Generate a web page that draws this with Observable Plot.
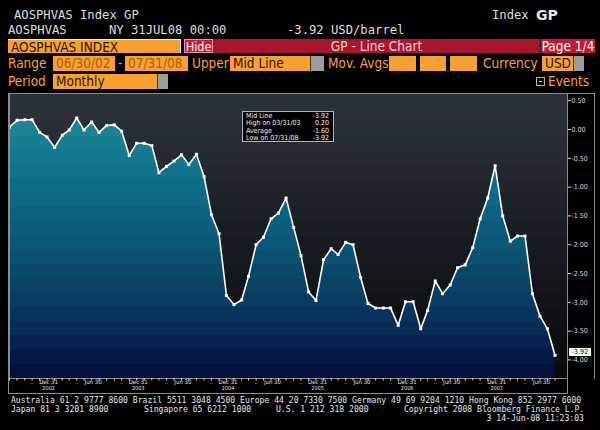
<!DOCTYPE html>
<html><head><meta charset="utf-8">
<script src="https://cdn.jsdelivr.net/npm/d3@7"></script>
<script src="https://cdn.jsdelivr.net/npm/@observablehq/plot@0.6"></script>
<style>
html,body{margin:0;padding:0;background:#000;}
#page{position:relative;width:600px;height:430px;background:#000;overflow:hidden;}
.a{position:absolute;white-space:nowrap;box-sizing:border-box;}
.mono{font-family:"DejaVu Sans Mono",monospace;color:#dedede;font-size:12.2px;line-height:14px;}
.nar{font-family:"Liberation Sans Narrow","DejaVu Sans Condensed","Arial Narrow",sans-serif;font-size:13.5px;line-height:15px;}
.lab{color:#f8a030;}
.box{background:#f8a030;color:#2a1500;padding-left:3px;}
.dbox{background:#f8a030;color:#b05a10;padding-left:3px;}
.cap{background:#9c9c9c;border-left:1px solid #333;}
.foot{font-family:"DejaVu Sans Mono",monospace;font-size:8.1px;color:#e6e6e6;line-height:9px;}
.ln{background:#8c8c8c;}
#legend{font-family:"DejaVu Sans Condensed","Liberation Sans Narrow",sans-serif;font-size:7px;color:#f2f2f2;line-height:7.3px;}
#legend .row{display:flex;justify-content:space-between;}
</style></head>
<body>
<div id="page">
  <!-- header -->
  <div class="a mono" style="left:14px;top:8px;">AOSPHVAS Index GP</div>
  <div class="a mono" style="left:492px;top:8px;">Index</div>
  <div class="a" style="left:536px;top:7px;font-family:'DejaVu Sans',sans-serif;font-weight:bold;font-size:14px;color:#e6e6e6;line-height:16px;">GP</div>
  <div class="a mono" style="left:8px;top:23px;">AOSPHVAS</div>
  <div class="a mono" style="left:109px;top:23px;">NY 31JUL08 00:00</div>
  <div class="a mono" style="left:287px;top:23px;">-3.92 USD/barrel</div>

  <div class="a nar box" style="left:8px;top:39px;width:173px;height:14px;line-height:14px;border-top:1px solid #fff2d0;border-right:1px solid #fff2d0;">AOSPHVAS INDEX</div>
  <div class="a nar" style="left:184px;top:39px;width:29px;height:14px;line-height:13px;background:#c81e3c;border:1px solid #f090a8;color:#fff;text-align:center;font-size:12.5px;">Hide</div>
  <div class="a nar" style="left:213px;top:39px;width:327px;height:14px;line-height:14px;background:#a8162c;color:#f8d0d8;text-align:center;">GP - Line Chart</div>
  <div class="a nar" style="left:541px;top:39px;width:54px;height:14px;line-height:14px;background:#c41a32;color:#fff;text-align:center;">Page 1/4</div>

  <div class="a nar lab" style="left:8px;top:56px;">Range</div>
  <div class="a nar dbox" style="left:53px;top:56px;width:62px;height:15px;">06/30/02</div>
  <div class="a nar lab" style="left:118px;top:56px;">-</div>
  <div class="a nar dbox" style="left:125px;top:56px;width:63px;height:15px;">07/31/08</div>
  <div class="a nar lab" style="left:192px;top:56px;">Upper</div>
  <div class="a nar box" style="left:230px;top:56px;width:80px;height:15px;">Mid Line</div>
  <div class="a cap" style="left:310px;top:56px;width:14px;height:15px;"></div>
  <div class="a nar lab" style="left:328px;top:56px;">Mov. Avgs</div>
  <div class="a box" style="left:389px;top:56px;width:27px;height:15px;"></div>
  <div class="a box" style="left:420px;top:56px;width:26px;height:15px;"></div>
  <div class="a box" style="left:450px;top:56px;width:27px;height:15px;"></div>
  <div class="a nar lab" style="left:483px;top:56px;">Currency</div>
  <div class="a nar box" style="left:542px;top:56px;width:31px;height:15px;">USD</div>
  <div class="a cap" style="left:573px;top:56px;width:11px;height:15px;"></div>

  <div class="a nar lab" style="left:8px;top:74px;">Period</div>
  <div class="a nar box" style="left:53px;top:74px;width:104px;height:15px;">Monthly</div>
  <div class="a cap" style="left:157px;top:74px;width:11px;height:15px;"></div>
  <div class="a" style="left:536px;top:77px;width:9px;height:9px;border:1px solid #b0b0b0;"><div style="position:absolute;left:2px;top:3px;width:3px;height:1px;background:#d0d0d0;"></div></div>
  <div class="a nar lab" style="left:548px;top:74px;">Events</div>

  <!-- chart -->
  <div class="a" id="chart" style="left:9px;top:93px;width:586px;height:301px;"></div>
  <div class="a ln" style="left:567px;top:93px;width:28px;height:1px;"></div>
  <div class="a ln" style="left:594px;top:93px;width:1px;height:286px;"></div>
  <div class="a ln" style="left:8px;top:93px;width:1px;height:301px;"></div>
  <div class="a ln" style="left:8px;top:393px;width:560px;height:1px;"></div>
  <div class="a ln" style="left:567px;top:378px;width:1px;height:16px;"></div>

  <div class="a" id="legend" style="left:242px;top:111px;width:92px;height:31px;border:1px solid #b4b4b4;background:#000;padding:1px 4px 0 3px;"></div>
  <div class="a" id="lastbox" style="left:569px;width:22px;height:8px;background:#fff;color:#000;font-family:'DejaVu Sans Condensed',sans-serif;font-size:7px;line-height:8px;text-align:center;"></div>

  <!-- footer -->
  <div class="a foot" style="left:11px;top:396px;">Australia 61 2 9777 8600 Brazil 5511 3048 4500 Europe 44 20 7330 7500 Germany 49 69 9204 1210 Hong Kong 852 2977 6000</div>
  <div class="a foot" style="left:11px;top:405px;">Japan 81 3 3201 8900</div>
  <div class="a foot" style="left:144px;top:405px;">Singapore 65 6212 1000</div>
  <div class="a foot" style="left:276px;top:405px;">U.S. 1 212 318 2000</div>
  <div class="a foot" style="left:404px;top:405px;">Copyright 2008 Bloomberg Finance L.P.</div>
  <div class="a foot" style="right:16px;top:414px;">3 14-Jun-08 11:23:03</div>
</div>
<script>
// ---- data ----
const startMonth = "2002-06-01";
const endMonth = "2008-08-01";
const values = [
  0.04, 0.16, 0.17, 0.17, -0.05, -0.13, -0.31, -0.10, -0.01, 0.20, -0.01, 0.13,
  -0.05, 0.07, 0.08, -0.03, -0.45, -0.24, -0.24, -0.28, -0.75, -0.64, -0.55, -0.44,
  -0.61, -0.43, -0.82, -1.48, -1.81, -2.88, -3.04, -2.96, -2.55, -2.00, -1.87, -1.55,
  -1.45, -1.19, -1.70, -2.19, -2.82, -2.97, -2.26, -2.07, -2.17, -1.96, -2.00, -2.57,
  -3.02, -3.10, -3.10, -3.10, -3.40, -2.99, -2.99, -3.46, -3.14, -2.63, -2.85, -2.70,
  -2.40, -2.35, -2.05, -1.55, -1.19, -0.63, -1.50, -1.94, -1.85, -1.85, -2.85, -3.24,
  -3.46, -3.92
];
const yTicks = [0.5, 0, -0.5, -1, -1.5, -2, -2.5, -3, -3.5, -4];
const xLabelDates = ["2002-12-31","2003-06-30","2003-12-31","2004-06-30","2004-12-31","2005-06-30",
  "2005-12-31","2006-06-30","2006-12-31","2007-06-30","2007-12-31","2008-06-30"];
const xLabelTexts = ["Dec 31","Jun 30","Dec 31","Jun 30","Dec 31","Jun 30",
  "Dec 31","Jun 30","Dec 31","Jun 30","Dec 31","Jun 30"];
const xYearDates = ["2002-12-31","2003-12-31","2004-12-31","2005-12-31","2006-12-31","2007-12-31"];
const xYearTexts = ["2002","2003","2004","2005","2006","2007"];
const xDotDates = ["2002-09-30","2003-03-31","2003-09-30","2004-03-31","2004-09-30","2005-03-31",
  "2005-09-30","2006-03-31","2006-09-30","2007-03-31","2007-09-30","2008-03-31"];
const legendLabels = ["Mid Line","High on 03/31/03","Average","Low on 07/31/08"];
const legendValues = ["-3.92","0.20","-1.60","-3.92"];
const lastLabel = "-3.92";

// ---- build ----
const months = d3.utcMonth.range(new Date(startMonth), new Date(endMonth));
const data = months.map((m, i) => ({date: d3.utcDay.offset(d3.utcMonth.offset(m, 1), -1), value: values[i]}));
const toDate = s => new Date(s);

const W = 586, H = 301, MT = 0, MB = 16, ML = 0, MR = 28;
const yDomain = [-4.323, 0.625];
const font = "'DejaVu Sans Condensed','Liberation Sans Narrow',sans-serif";

const chart = Plot.plot({
  width: W, height: H,
  marginTop: MT, marginBottom: MB, marginLeft: ML, marginRight: MR,
  style: {background: "transparent", color: "#d8d8d8", fontFamily: font, overflow: "visible"},
  x: {type: "utc", domain: [new Date("2002-06-30"), new Date("2008-09-20")], label: null},
  y: {domain: yDomain, label: null},
  marks: [
    Plot.frame({fill: "url(#bgGrad)"}),
    Plot.areaY(data, {x: "date", y1: yDomain[0], y2: "value", fill: "url(#areaGrad)"}),
    Plot.line(data, {x: "date", y: "value", stroke: "#ffffff", strokeWidth: 1.6}),
    Plot.dot(data, {x: "date", y: "value", symbol: "square", r: 1.7, fill: "#ffffff"}),
    Plot.frame({stroke: "#8c8c8c"}),
    Plot.axisY(yTicks, {anchor: "right", tickSize: 3, tickPadding: 1, tickFormat: d => d.toFixed(2), fontSize: 7, color: "#d8d8d8", label: null}),
    Plot.axisX(data.map(d => d.date), {tickSize: 2.5, tickFormat: () => "", color: "#d8d8d8", label: null}),
    Plot.text(xLabelDates, {x: toDate, text: (d, i) => xLabelTexts[i], frameAnchor: "bottom", dy: 5, dx: -6, fontSize: 6, fill: "#e4e4e4"}),
    Plot.text(xYearDates, {x: toDate, text: (d, i) => xYearTexts[i], frameAnchor: "bottom", dy: 11.5, dx: -6, fontSize: 5.5, fill: "#e4e4e4"}),
    Plot.text(xDotDates, {x: toDate, text: () => "..", frameAnchor: "bottom", dy: 5, fontSize: 6, fill: "#cfcfcf"})
  ]
});

// gradients (stepped bands like the terminal rendering)
const svg = d3.select(chart);
const defs = svg.insert("defs", ":first-child");
const plotTop = MT, plotBottom = H - MB;
function banded(id, colors, n) {
  const interp = d3.piecewise(d3.interpolateRgb, colors);
  const g = defs.append("linearGradient").attr("id", id)
    .attr("gradientUnits", "userSpaceOnUse")
    .attr("x1", 0).attr("x2", 0).attr("y1", plotTop).attr("y2", plotBottom);
  for (let k = 0; k < n; k++) {
    const c = interp((k + 0.5) / n);
    g.append("stop").attr("offset", k / n).attr("stop-color", c);
    g.append("stop").attr("offset", (k + 1) / n).attr("stop-color", c);
  }
}
banded("bgGrad", ["#2c323b", "#262b33", "#1d2128", "#15181d", "#0e1013", "#08090b"], 20);
banded("areaGrad", ["#2c909d", "#187e91", "#0c6c87", "#0a5a7a", "#094566", "#062b56", "#020c38"], 20);

document.getElementById("chart").appendChild(chart);

// legend box
const leg = document.getElementById("legend");
legendLabels.forEach((l, i) => {
  const r = document.createElement("div");
  r.className = "row";
  r.innerHTML = `<span>${l}</span><span>${legendValues[i]}</span>`;
  leg.appendChild(r);
});

// last value tag positioned with the y scale
const yScale = chart.scale("y");
const lb = document.getElementById("lastbox");
lb.textContent = lastLabel;
lb.style.top = (93 + yScale.apply(values[values.length - 1]) - 7) + "px";
</script>
</body></html>
